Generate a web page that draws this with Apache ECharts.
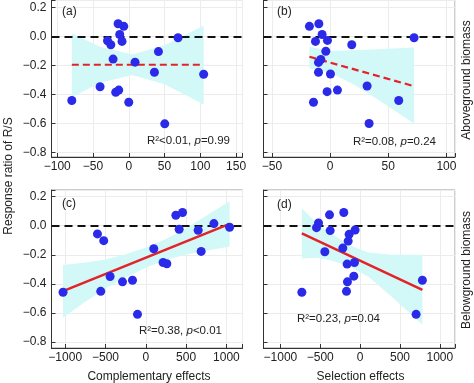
<!DOCTYPE html>
<html><head><meta charset="utf-8">
<script src="https://cdn.jsdelivr.net/npm/echarts@6/dist/echarts.min.js"></script>
<style>html,body{margin:0;padding:0;background:#fff}#c{width:474px;height:383px}</style>
</head><body><div id="c"></div>
<script>
// ---------- data ----------
const panelLabels = ['(a)', '(b)', '(c)', '(d)'];
const xTitles = ['Complementary effects', 'Selection effects'];
const yTitle = 'Response ratio of R/S';
const rowTitles = ['Aboveground biomass', 'Belowground biomass'];
const statR2 = ['<0.01', '=0.08', '=0.38', '=0.23'];
const statP = ['=0.99', '=0.24', '<0.01', '=0.04'];

const aX = [-79.6, -40.1, -29.7, -25.1, -21.9, -14.9, -7.0, -12.6, -9.4, -18.2, -14.0, 0, 8.8, 35.9, 41.5, 68.9, 50.3, 104.7];
const aY = [-0.442, -0.347, -0.029, -0.057, -0.156, 0.088, 0.070, 0.014, -0.034, -0.385, -0.370, -0.454, -0.177, -0.247, -0.104, -0.009, -0.603, -0.261];
const bX = [-17.8, -9.7, -6.9, -12.6, -2.3, -3.7, -8.0, -10.0, -10.0, 0.3, -2.6, 6.3, -14.3, 18.6, 31.8, 33.5, 59.0, 72.2];
const bY = [0.070, 0.088, 0.014, -0.034, -0.027, -0.102, -0.159, -0.179, -0.247, -0.259, -0.381, -0.370, -0.454, -0.057, -0.342, -0.601, -0.442, -0.009];
const cX = [-1027, -600, -522, -559, -443, -289, -165, -103, 99, 215, 261, 373, 456, 414, 650, 687, 845, 1040];
const cY = [-0.457, -0.057, -0.103, -0.451, -0.349, -0.386, -0.375, -0.609, -0.159, -0.253, -0.262, 0.071, 0.090, -0.025, -0.032, -0.177, 0.014, -0.011];
const dX = [-731, -522, -547, -384, -376, -205, -443, -217, -63, -138, -150, -163, -71, -79, -159, -171, 702, 781];
const dY = [-0.457, 0.018, -0.014, 0.074, -0.034, 0.090, -0.179, -0.154, -0.030, -0.060, -0.106, -0.264, -0.253, -0.347, -0.386, -0.451, -0.609, -0.375];

const aFitX = [-79.6, 104.7], aFitY = [-0.195, -0.195];
const bFitX = [-17.8, 72.2], bFitY = [-0.140, -0.343];
const cFitX = [-1027, 1040], cFitY = [-0.450, 0.012];
const dFitX = [-731, 781], dFitY = [-0.053, -0.441];

const aBandX = [-79.6, -40, 5, 50, 104.7];
const aBandLo = [-0.42, -0.32, -0.265, -0.33, -0.47];
const aBandHi = [0.02, -0.07, -0.125, -0.06, 0.075];
const bBandX = [-17.8, 0, 20, 40, 72.2];
const bBandLo = [-0.22, -0.25, -0.33, -0.43, -0.60];
const bBandHi = [-0.07, -0.10, -0.095, -0.088, -0.076];
const cBandX = [-1027, -750, -500, -250, 0, 250, 500, 750, 1040];
const cBandLo = [-0.63, -0.523, -0.432, -0.356, -0.29, -0.236, -0.198, -0.173, -0.143];
const cBandHi = [-0.27, -0.253, -0.232, -0.196, -0.15, -0.092, -0.018, 0.067, 0.167];
const dBandX = [-731, -550, -400, -150, 100, 400, 781];
const dBandLo = [-0.226, -0.22, -0.235, -0.275, -0.35, -0.49, -0.68];
const dBandHi = [0.12, 0.02, -0.04, -0.13, -0.185, -0.20, -0.20];

// ---------- layout / style ----------
const FONT = 'Liberation Sans, Arial, sans-serif';
const TXT = '#222';
const grids = [
  {left: 51.5, top: -1, width: 191, height: 158},
  {left: 263.5, top: -1, width: 191.5, height: 158},
  {left: 51.5, top: 190, width: 191, height: 158},
  {left: 263.5, top: 190, width: 191.5, height: 158}
];
const xRanges = [[-108, 159, 50], [-57.3, 107.4, 50], [-1170, 1200, 500], [-1212, 1190, 500]];
const yRanges = [[-0.832, 0.252], [-0.832, 0.252], [-0.84, 0.2445], [-0.84, 0.2445]];

function fmt(v, dec) {
  const s = Math.abs(v).toFixed(dec);
  return (v < -1e-9 ? '\u2212' : '') + s;
}
function onStep(v, step) {
  const r = v / step;
  return Math.abs(r - Math.round(r)) < 1e-6;
}

const xAxes = xRanges.map((r, i) => ({
  type: 'value', gridIndex: i, min: r[0], max: r[1], splitNumber: 4,
  axisLine: {show: true, onZero: false, lineStyle: {color: '#333', width: 1}},
  axisTick: {show: true, inside: true, length: 4, lineStyle: {color: '#333'}},
  axisLabel: {fontSize: 12, fontFamily: FONT, color: TXT, margin: 4,
    formatter: v => onStep(v, r[2]) ? fmt(v, 0) : ''},
  splitLine: {show: true, lineStyle: {color: '#ececec', width: 1}}
}));
const yAxes = yRanges.map((r, i) => ({
  type: 'value', gridIndex: i, min: r[0], max: r[1], splitNumber: 5,
  axisLine: {show: true, onZero: false, lineStyle: {color: '#333', width: 1}},
  axisTick: {show: true, inside: true, length: 4, lineStyle: {color: '#333'}},
  axisLabel: {show: i % 2 === 0, fontSize: 12, fontFamily: FONT, color: TXT, margin: 5,
    formatter: v => onStep(v, 0.2) ? fmt(v, 1) : ''},
  splitLine: {show: true, lineStyle: {color: '#ececec', width: 1}}
}));

const sets = [
  {x: aX, y: aY, fx: aFitX, fy: aFitY, bx: aBandX, lo: aBandLo, hi: aBandHi, dashed: true},
  {x: bX, y: bY, fx: bFitX, fy: bFitY, bx: bBandX, lo: bBandLo, hi: bBandHi, dashed: true},
  {x: cX, y: cY, fx: cFitX, fy: cFitY, bx: cBandX, lo: cBandLo, hi: cBandHi, dashed: false},
  {x: dX, y: dY, fx: dFitX, fy: dFitY, bx: dBandX, lo: dBandLo, hi: dBandHi, dashed: false}
];

const series = [];
sets.forEach((s, i) => {
  series.push({
    type: 'custom', xAxisIndex: i, yAxisIndex: i, silent: true, z: 1, clip: true,
    data: [[s.bx[0], s.lo[0]]],
    renderItem: (params, api) => {
      const pts = [];
      for (let k = 0; k < s.bx.length; k++) pts.push(api.coord([s.bx[k], s.hi[k]]));
      for (let k = s.bx.length - 1; k >= 0; k--) pts.push(api.coord([s.bx[k], s.lo[k]]));
      return {type: 'polygon', shape: {points: pts}, style: {fill: '#d3f8f8', stroke: null}};
    }
  });
  series.push({
    type: 'line', xAxisIndex: i, yAxisIndex: i, silent: true, z: 5, symbol: 'none',
    data: s.fx.map((v, k) => [v, s.fy[k]]),
    lineStyle: {color: '#e2232a', width: s.dashed ? 2.2 : 2.5, type: s.dashed ? [7, 4] : 'solid'},
    markLine: {
      silent: true, symbol: ['none', 'none'], z: 3, label: {show: false},
      lineStyle: {color: '#111', width: 2, type: [8, 5]},
      data: [{yAxis: 0}]
    }
  });
  series.push({
    type: 'scatter', xAxisIndex: i, yAxisIndex: i, z: 10, symbolSize: 9,
    data: s.x.map((v, k) => [v, s.y[k]]),
    itemStyle: {color: '#2a2ae8', opacity: 1}
  });
});

const rich = {
  n: {fontSize: 11.5, fontFamily: FONT, fill: TXT, color: TXT},
  s: {fontSize: 8, fontFamily: FONT, fill: TXT, color: TXT, verticalAlign: 'top', padding: [0, 0, 5, 0]},
  i: {fontSize: 11.5, fontFamily: FONT, fill: TXT, color: TXT, fontStyle: 'italic'}
};
const statPos = [[230, 141], [436, 142], [222, 330.5], [380, 319]];
const labPos = [[62, 12], [277, 12], [62, 204], [277, 205]];

const graphic = [];
statPos.forEach((p, i) => {
  graphic.push({type: 'text', x: p[0], y: p[1], silent: true, z: 50,
    style: {text: '{n|R\u00b2' + statR2[i] + ', }{i|p}{n|' + statP[i] + '}', rich: rich,
      align: 'right', verticalAlign: 'middle', fill: TXT}});
});
labPos.forEach((p, i) => {
  graphic.push({type: 'text', x: p[0], y: p[1], silent: true, z: 50,
    style: {text: panelLabels[i], font: '12px ' + FONT, fill: TXT, align: 'left', verticalAlign: 'middle'}});
});
graphic.push({type: 'text', x: 149, y: 377, silent: true,
  style: {text: xTitles[0], font: '12px ' + FONT, fill: TXT, align: 'center', verticalAlign: 'middle'}});
graphic.push({type: 'text', x: 360.5, y: 377, silent: true,
  style: {text: xTitles[1], font: '12px ' + FONT, fill: TXT, align: 'center', verticalAlign: 'middle'}});
graphic.push({type: 'text', x: 9, y: 176, rotation: Math.PI / 2, silent: true,
  style: {text: yTitle, font: '12px ' + FONT, fill: TXT, align: 'center', verticalAlign: 'middle'}});
graphic.push({type: 'text', x: 467, y: 80, rotation: Math.PI / 2, silent: true,
  style: {text: rowTitles[0], font: '12px ' + FONT, fill: TXT, align: 'center', verticalAlign: 'middle'}});
graphic.push({type: 'text', x: 467, y: 270, rotation: Math.PI / 2, silent: true,
  style: {text: rowTitles[1], font: '12px ' + FONT, fill: TXT, align: 'center', verticalAlign: 'middle'}});

const chart = echarts.init(document.getElementById('c'), null, {renderer: 'canvas'});
chart.setOption({
  animation: false,
  backgroundColor: '#fff',
  grid: grids.map(g => Object.assign({show: true, borderColor: '#9a9a9a', borderWidth: 1, containLabel: false}, g)),
  xAxis: xAxes,
  yAxis: yAxes,
  series: series,
  graphic: graphic
});
</script>
</body></html>
